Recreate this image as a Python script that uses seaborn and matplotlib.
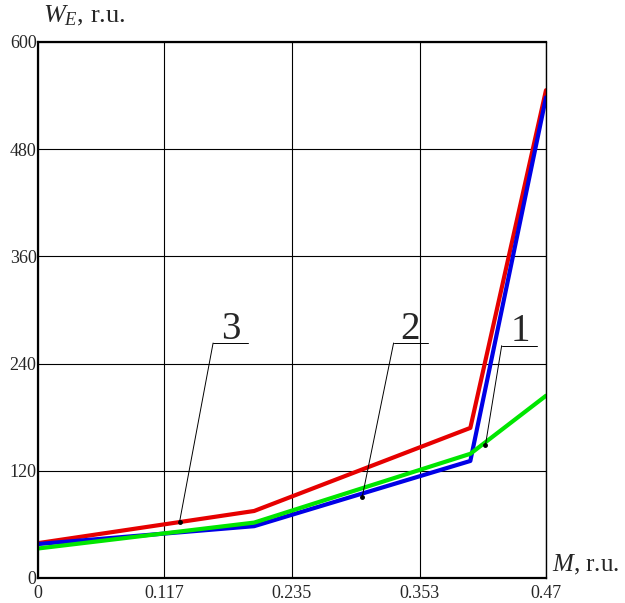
import pandas as pd
import matplotlib.pyplot as plt
import seaborn as sns

# data
m_values = [0.0, 0.2, 0.4, 0.47]
w_curve1 = [38, 58, 131, 538]   # blue
w_curve2 = [33, 62, 139, 204]   # green
w_curve3 = [39, 75, 168, 546]   # red

x_ticks = [0, 0.117, 0.235, 0.353, 0.47]
x_tick_labels = ['0', '0.117', '0.235', '0.353', '0.47']
y_ticks = [0, 120, 240, 360, 480, 600]

# callouts: label, text pos, underline x-range, underline y, arrow end
callouts = [
    ('3', (0.178, 268), (0.162, 0.194), 263, (0.131, 63)),
    ('2', (0.344, 268), (0.329, 0.361), 263, (0.300, 91)),
    ('1', (0.446, 265), (0.429, 0.462), 260, (0.414, 149)),
]

sns.set_style('white')
plt.rcParams['font.family'] = ['Liberation Serif', 'DejaVu Serif']
plt.rcParams['mathtext.fontset'] = 'custom'
plt.rcParams['mathtext.it'] = 'Liberation Serif:italic'
plt.rcParams['mathtext.rm'] = 'Liberation Serif'

df = pd.concat([
    pd.DataFrame({'M': m_values, 'W': w_curve3, 'curve': '3'}),
    pd.DataFrame({'M': m_values, 'W': w_curve1, 'curve': '1'}),
    pd.DataFrame({'M': m_values, 'W': w_curve2, 'curve': '2'}),
])
palette = {'1': '#0000e6', '2': '#00e600', '3': '#e60000'}

fig = plt.figure(figsize=(6.25, 6.03), dpi=100)
ax = fig.add_axes([0.0608, 0.0415, 0.8128, 0.8889])

sns.lineplot(data=df, x='M', y='W', hue='curve', palette=palette,
             linewidth=3, legend=False, ax=ax, sort=False, estimator=None)

ax.set_xlim(0, 0.47)
ax.set_ylim(0, 600)
ax.set_xticks(x_ticks)
ax.set_xticklabels(x_tick_labels)
ax.set_yticks(y_ticks)
ax.tick_params(axis='both', length=0, labelsize=13)
ax.tick_params(axis='x', pad=5)
ax.tick_params(axis='y', pad=1)
ax.grid(True, color='black', linewidth=0.8)
ax.set_axisbelow(True)
for side in ['left', 'bottom', 'top']:
    ax.spines[side].set_linewidth(1.6)
    ax.spines[side].set_color('black')
ax.spines['right'].set_linewidth(1.0)
ax.spines['right'].set_color('black')
ax.set_xlabel('')
ax.set_ylabel('')

for label, (tx, ty), (ux0, ux1), uy, (ex, ey) in callouts:
    ax.text(tx, ty, label, fontsize=28, ha='center', va='baseline')
    ax.plot([ux0, ux1], [uy, uy], color='black', linewidth=0.7, clip_on=False)
    ax.plot([ux0, ex], [uy, ey], color='black', linewidth=0.7)
    ax.plot(ex, ey, marker='o', markersize=2.5, color='black')

fig.text(0.069, 0.974, r'$W_{E}$, r.u.', fontsize=19, ha='left', va='center')
fig.text(0.884, 0.063, r'$M$, r.u.', fontsize=18, ha='left', va='center')

plt.savefig('out.png', dpi=100)
